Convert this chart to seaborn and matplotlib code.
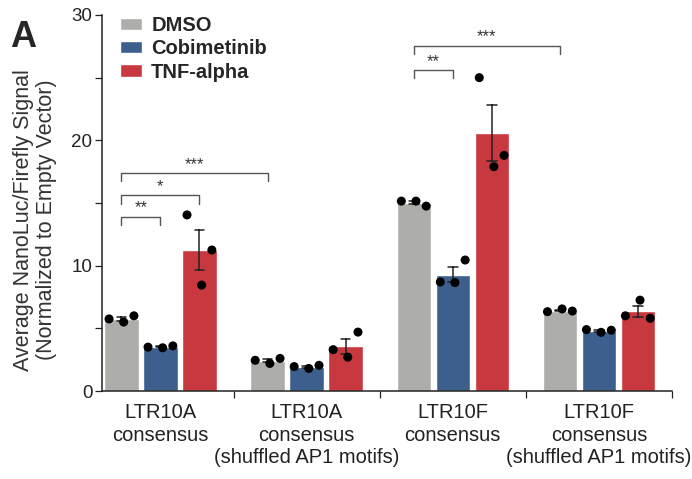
import numpy as np
import pandas as pd
import matplotlib
matplotlib.use("Agg")
import matplotlib.pyplot as plt
import seaborn as sns
from matplotlib.patches import Patch

# construct labels and treatments
constructs = ["LTR10A\nconsensus", "LTR10A\nconsensus\n(shuffled AP1 motifs)",
              "LTR10F\nconsensus", "LTR10F\nconsensus\n(shuffled AP1 motifs)"]
treatments = ["DMSO", "Cobimetinib", "TNF-alpha"]
colors = ["#ADADA9", "#3D5F8E", "#C8383F"]

# replicate values (3 per construct/treatment)
dmso_reps = [[5.75, 5.5, 6.0], [2.45, 2.2, 2.6], [15.15, 15.15, 14.75], [6.33, 6.55, 6.38]]
cobi_reps = [[3.5, 3.45, 3.6], [1.95, 1.8, 2.05], [8.7, 8.65, 10.45], [4.9, 4.68, 4.85]]
tnf_reps = [[14.05, 8.45, 11.25], [3.3, 2.7, 4.7], [25.0, 17.9, 18.8], [6.0, 7.25, 5.8]]

# significance brackets: (group, treatment a, group, treatment b, height, label)
sig_brackets = [
    (0, 0, 0, 1, 13.9, "**"),
    (0, 0, 0, 2, 15.6, "*"),
    (0, 0, 1, 0, 17.4, "***"),
    (2, 0, 2, 1, 25.6, "**"),
    (2, 0, 3, 0, 27.55, "***"),
]

rows = []
for i, c in enumerate(constructs):
    for t, reps in zip(treatments, [dmso_reps, cobi_reps, tnf_reps]):
        for r, v in enumerate(reps[i]):
            rows.append({"construct": c, "treatment": t, "rep": r, "value": v})
df = pd.DataFrame(rows)

sns.set_style("ticks")
plt.rcParams["font.family"] = ["Liberation Sans", "DejaVu Sans"]

fig = plt.figure(figsize=(6.92, 4.79), dpi=100)
ax = fig.add_axes([0.1474, 0.1837, 0.8236, 0.785])

palette = dict(zip(treatments, colors))
sns.barplot(data=df, x="construct", y="value", hue="treatment", order=constructs,
            hue_order=treatments, palette=palette, width=0.8, gap=0.12,
            errorbar="se", capsize=0.2, err_kws={"color": "#222222", "linewidth": 1.1},
            saturation=1, legend=False, ax=ax)

sns.stripplot(data=df, x="construct", y="value", hue="treatment", order=constructs,
              hue_order=treatments, palette=["black"] * 3, dodge=True, jitter=False,
              size=6.5, legend=False, ax=ax)

# spread the replicates across each bar (left, middle, right) instead of random jitter
spread = [-0.085, 0.015, 0.085]
for coll in ax.collections:
    offs = coll.get_offsets()
    if len(offs) == 0:
        continue
    offs = np.asarray(offs).copy()
    for k in range(len(offs)):
        offs[k, 0] += spread[k % 3]
    coll.set_offsets(offs)

ax.set_xlim(-0.4, 3.5)
ax.set_ylim(0, 30)
ax.set_yticks([0, 10, 20, 30])
ax.set_yticks([5, 15, 25], minor=True)
ax.tick_params(axis="y", which="both", labelsize=13.5, length=5, width=0.9,
               colors="#222222", pad=2)
ax.set_xticks([0.5, 1.5, 2.5, 3.5])
ax.set_xticklabels([])
ax.tick_params(axis="x", length=5, width=0.9, colors="#222222")
for i, c in enumerate(constructs):
    ax.text(i, -0.95, c, ha="center", va="top", fontsize=14.5, color="#222222",
            linespacing=1.25)
sns.despine(ax=ax)
for s in ["left", "bottom"]:
    ax.spines[s].set_linewidth(1.1)
    ax.spines[s].set_color("#222222")
ax.set_xlabel("")
ax.set_ylabel("Average NanoLuc/Firefly Signal\n(Normalized to Empty Vector)",
              fontsize=15.5, color="#333333", linespacing=1.15)
ax.yaxis.set_label_coords(-0.079, 0.455)

# bracket x positions = centre of each dodged bar
slot = 0.8 / 3
def bar_x(g, t):
    return g - 0.4 + slot * (t + 0.5)

for ga, ta, gb, tb, h, lab in sig_brackets:
    x1, x2 = bar_x(ga, ta), bar_x(gb, tb)
    ax.plot([x1, x1, x2, x2], [h - 0.65, h, h, h - 0.65], color="#555555", lw=1.0)
    ax.text((x1 + x2) / 2, h + 0.1, lab, ha="center", va="bottom", fontsize=12,
            color="#333333")

handles = [Patch(facecolor=c, label=t) for t, c in zip(treatments, colors)]
leg = ax.legend(handles=handles, loc="upper left", bbox_to_anchor=(0.0316, 0.998),
                borderaxespad=0, borderpad=0, frameon=False,
                handlelength=1.1, handleheight=0.55, handletextpad=0.45,
                labelspacing=0.22, prop={"weight": "bold", "size": 14.5})

fig.text(0.015, 0.958, "A", fontsize=26, fontweight="bold", va="top", ha="left")

fig.savefig("out.png", dpi=100)
